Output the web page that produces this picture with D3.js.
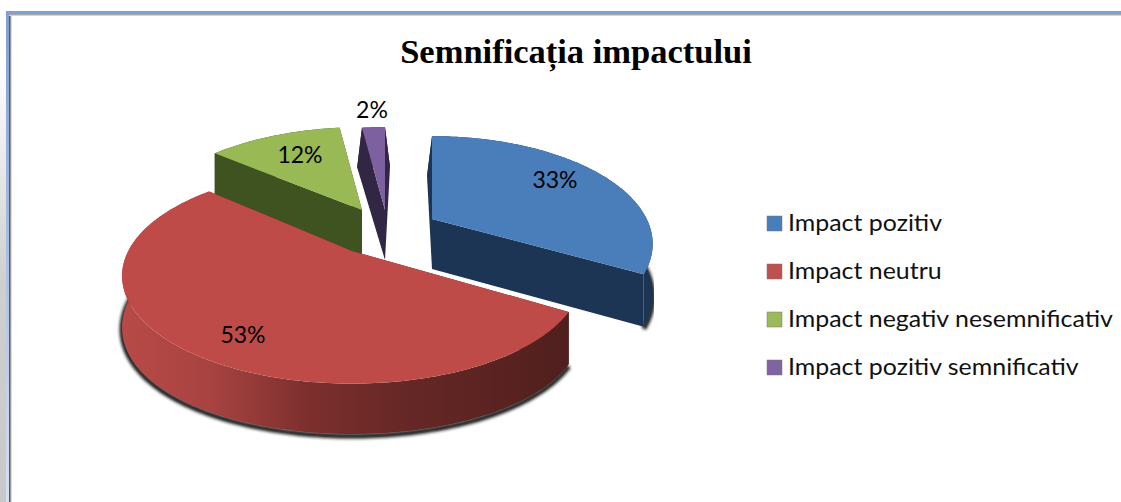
<!DOCTYPE html>
<html>
<head>
<meta charset="utf-8">
<script src="https://cdn.jsdelivr.net/npm/d3@7"></script>
<style>
  html, body { margin: 0; padding: 0; background: #fff; }
  svg { display: block; }
</style>
</head>
<body>
<svg width="1121" height="502"></svg>
<script>
var categories = ["Impact pozitiv", "Impact neutru", "Impact negativ nesemnificativ", "Impact pozitiv semnificativ"];
var values = [33, 53, 12, 2];
var labels = ["33%", "53%", "12%", "2%"];

var topColors = ["#4a7ebb", "#be4b48", "#98b954", "#7d60a0"];
var wallColors = ["#1c3554", "#5e2220", "#3f5321", "#322645"];
var legendColors = ["#4a7ebb", "#c0504d", "#9bbb59", "#8064a2"];

// how far each slice is pulled out of the pie, in pixels, its width factor and a small turn (radians)
var explodeX = [52, -28, -18, 5];
var explodeY = [-13, 19, -22, -22];
var widthFactor = [0.95, 0.99, 0.97, 1];
var turn = [0, 0.05, 0, 0];
var labelX = [555, 243, 300, 372];
var labelY = [180, 335, 155, 110];

var svg = d3.select("svg");
var defs = svg.append("defs");

var pieX = 380, pieY = 232, depth = 50;
var rx = 226, ryTop = 102, kTop = 0.231;
var ryBottom = 109.5, kBottom = 0.177;

var slices = d3.pie().sort(null).value(function(d) { return d; })(values);

function rimTop(a, i) {
  var c = -Math.cos(a + turn[i]), s = Math.sin(a + turn[i]), w = 1 - kTop * c;
  return [pieX + explodeX[i] + rx * widthFactor[i] * s / w,
          pieY + explodeY[i] + ryTop * c / w];
}
// bottom rim follows the top rim in x, and only spreads a little at the far back
function rimBottom(a, i, mid) {
  var c = -Math.cos(a + turn[i]);
  var back = Math.max(0, (-c - 0.8) / 0.2);
  var spread = (a < mid ? -5 : 5) * back;
  return [rimTop(a, i)[0] + spread,
          pieY + explodeY[i] + depth + ryBottom * c / (1 - kBottom * c)];
}
function angles(d) {
  return d3.range(d.startAngle, d.endAngle, 0.02).concat([d.endAngle]);
}
var line = d3.line();

// outer page: grey fade on the left, frame lines
var fade = defs.append("linearGradient").attr("id", "fade")
    .attr("x1", 0).attr("x2", 0).attr("y1", 0).attr("y2", 1);
fade.append("stop").attr("offset", "0.1").attr("stop-color", "#ffffff");
fade.append("stop").attr("offset", "0.55").attr("stop-color", "#cfcfcf");
fade.append("stop").attr("offset", "1").attr("stop-color", "#c8c8c8");
var frameFade = defs.append("linearGradient").attr("id", "frameFade")
    .attr("x1", 0).attr("x2", 0).attr("y1", 0).attr("y2", 1);
frameFade.append("stop").attr("offset", "0").attr("stop-color", "#7f9fd6");
frameFade.append("stop").attr("offset", "0.5").attr("stop-color", "#a9bfe4");
frameFade.append("stop").attr("offset", "1").attr("stop-color", "#d6e0f2");

svg.append("rect").attr("x", 0).attr("y", 14).attr("width", 6).attr("height", 488).attr("fill", "url(#fade)");
svg.append("rect").attr("x", 9).attr("y", 14).attr("width", 1).attr("height", 488).attr("fill", "#5a5a5a");
svg.append("rect").attr("x", 10).attr("y", 14).attr("width", 1).attr("height", 488).attr("fill", "#9a9a9a");
svg.append("rect").attr("x", 11).attr("y", 14).attr("width", 1).attr("height", 488).attr("fill", "#dddddd");
svg.append("rect").attr("x", 9).attr("y", 14).attr("width", 1112).attr("height", 1).attr("fill", "#a8a8a8");
svg.append("rect").attr("x", 9).attr("y", 15).attr("width", 1112).attr("height", 1).attr("fill", "#d4d4d4");
svg.append("rect").attr("x", 6).attr("y", 11).attr("width", 3).attr("height", 491).attr("fill", "url(#frameFade)");
svg.append("rect").attr("x", 6).attr("y", 11).attr("width", 1115).attr("height", 3).attr("fill", "#7f9fd6");

// wall shading on the big slice
var redWall = defs.append("linearGradient").attr("id", "redWall")
    .attr("gradientUnits", "userSpaceOnUse")
    .attr("x1", 120).attr("x2", 570).attr("y1", 0).attr("y2", 0);
[[0, "#b84a47"], [0.2, "#a84341"], [0.42, "#7c2f2d"], [0.62, "#672826"], [1, "#501f1d"]].forEach(function(s) {
  redWall.append("stop").attr("offset", s[0]).attr("stop-color", s[1]);
});

var blur = defs.append("filter").attr("id", "soft")
    .attr("x", "-10%").attr("y", "-10%").attr("width", "120%").attr("height", "120%");
blur.append("feGaussianBlur").attr("stdDeviation", 1.6);

// back to front: purple, green, blue, red
var order = [3, 2, 0, 1];

var pieG = svg.append("g");

order.forEach(function(i) {
  var d = slices[i];
  var as = angles(d);
  var mid = (d.startAngle + d.endAngle) / 2;
  var topRim = as.map(function(a) { return rimTop(a, i); });
  var botRim = as.map(function(a) { return rimBottom(a, i, mid); });
  var apexTop = [pieX + explodeX[i], pieY + explodeY[i]];
  var apexBot = [apexTop[0], apexTop[1] + depth];

  // soft shadow under the front of the rim
  var front = as.filter(function(a) { return Math.cos(a + turn[i]) < 0.1; })
      .map(function(a) { var p = rimBottom(a, i, mid); return [p[0], p[1] + 2]; });
  if (front.length > 1) {
    pieG.append("path").attr("d", line(front))
        .attr("fill", "none").attr("stroke", "#1c1c1c").attr("stroke-width", 5)
        .attr("filter", "url(#soft)");
  }

  var wall = i === 1 ? "url(#redWall)" : wallColors[i];
  // radial faces
  [[topRim[0], botRim[0]], [topRim[topRim.length - 1], botRim[botRim.length - 1]]].forEach(function(e) {
    pieG.append("path").attr("d", line([apexTop, e[0], e[1], apexBot]) + "Z").attr("fill", wallColors[i]);
  });
  // outer wall
  pieG.append("path").attr("d", line(topRim.concat(botRim.slice().reverse())) + "Z").attr("fill", wall);
  // top face
  pieG.append("path").attr("d", line([apexTop].concat(topRim)) + "Z").attr("fill", topColors[i]);
});

// slice labels
svg.selectAll("text.pct").data(labels).enter().append("text")
    .attr("class", "pct")
    .attr("x", function(d, i) { return labelX[i]; })
    .attr("y", function(d, i) { return labelY[i]; })
    .attr("dy", "0.35em")
    .attr("text-anchor", "middle")
    .attr("font-family", "Lato, sans-serif")
    .attr("font-size", 23)
    .attr("fill", "#000")
    .text(function(d) { return d; });

// title
svg.append("text").attr("x", 576).attr("y", 63)
    .attr("text-anchor", "middle")
    .attr("font-family", "'Liberation Serif', serif")
    .attr("font-weight", "bold")
    .attr("font-size", 34.5)
    .attr("fill", "#000")
    .text("Semnificația impactului");

// legend
var legendY = d3.scalePoint().domain(categories).range([223, 367]);
var legend = svg.selectAll("g.legend").data(categories).enter().append("g")
    .attr("class", "legend")
    .attr("transform", function(d) { return "translate(767," + legendY(d) + ")"; });
legend.append("rect").attr("x", 0).attr("y", -7).attr("width", 15).attr("height", 15)
    .attr("fill", function(d, i) { return legendColors[i]; })
    .attr("stroke", "#777").attr("stroke-width", 0.5);
legend.append("text")
    .attr("transform", "translate(21,8) scale(1.083,1)")
    .attr("font-family", "Lato, sans-serif")
    .attr("font-size", 23)
    .attr("fill", "#111")
    .text(function(d) { return d; });
</script>
</body>
</html>
